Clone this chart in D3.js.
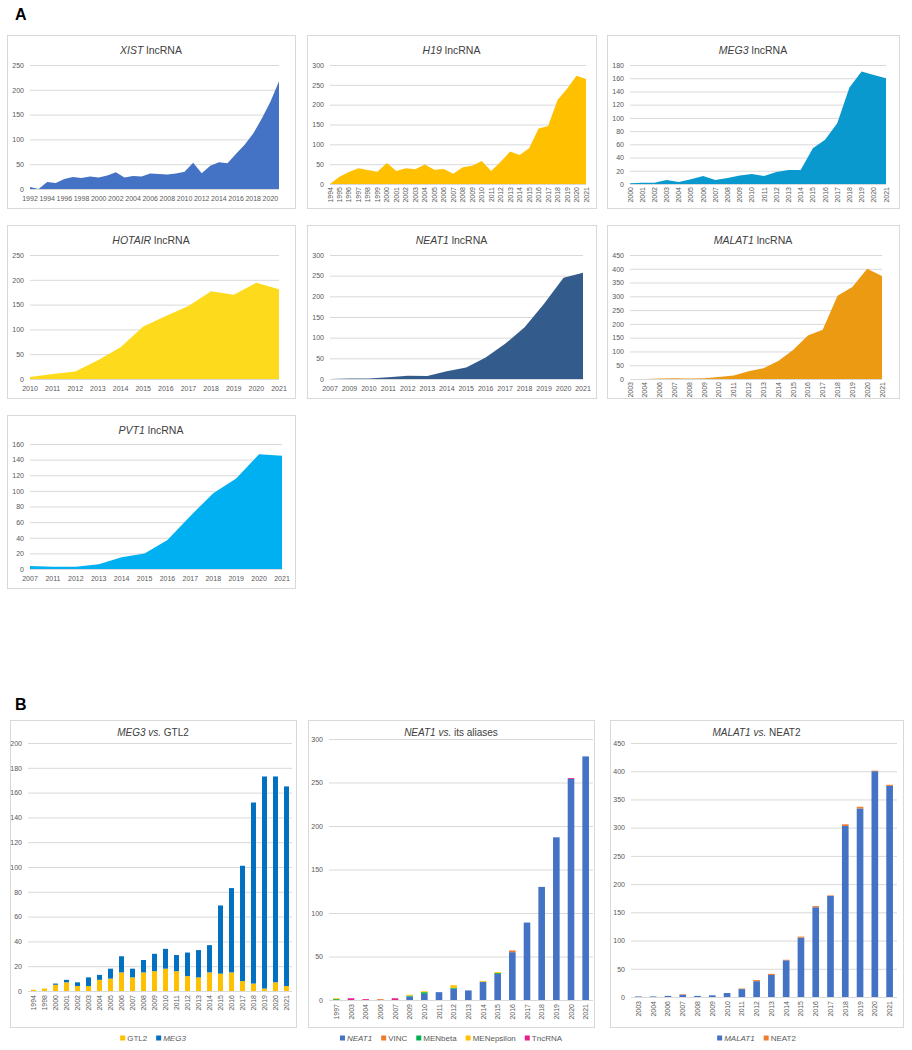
<!DOCTYPE html>
<html>
<head>
<meta charset="utf-8">
<script src="https://cdn.jsdelivr.net/npm/d3@7"></script>
<style>
  body { margin: 0; background: #fff; }
  svg { font-family: "Liberation Sans", Arial, sans-serif; }
  .tick text { fill: #595959; }
</style>
</head>
<body>
<svg id="chart" width="912" height="1050"></svg>
<script>
// ---- data: panel A (publications per year) ----
const xistYears = [1992,1993,1994,1995,1996,1997,1998,1999,2000,2001,2002,2003,2004,2005,2006,2007,2008,2009,2010,2011,2012,2013,2014,2015,2016,2017,2018,2019,2020,2021];
const xistValues = [4,0,14,12,20,24,22,25,23,27,34,23,26,25,31,30,29,31,35,53,32,47,54,52,71,89,112,142,176,217];
const xistTicks = [1992,1994,1996,1998,2000,2002,2004,2006,2008,2010,2012,2014,2016,2018,2020];

const h19Years = [1994,1995,1996,1997,1998,1999,2000,2001,2002,2003,2004,2005,2006,2007,2008,2009,2010,2011,2012,2013,2014,2015,2016,2017,2018,2019,2020,2021];
const h19Values = [0,18,30,40,35,31,53,33,40,37,49,36,38,26,42,46,58,33,56,82,73,90,140,146,212,240,273,265];

const meg3Years = [2000,2001,2002,2003,2004,2005,2006,2007,2008,2009,2010,2011,2012,2013,2014,2015,2016,2017,2018,2019,2020,2021];
const meg3Values = [1,2,2,6,3,7,12,6,9,13,15,12,18,21,21,54,67,92,146,170,165,160];

const hotairYears = [2010,2011,2012,2013,2014,2015,2016,2017,2018,2019,2020,2021];
const hotairValues = [4,10,15,38,64,106,127,147,177,170,194,181];

const neat1Years = [2007,2009,2010,2011,2012,2013,2014,2015,2016,2017,2018,2019,2020,2021];
const neat1Values = [0,1,1,4,8,7,19,28,52,85,125,182,245,257];

const malat1Years = [2003,2004,2006,2007,2008,2009,2010,2011,2012,2013,2014,2015,2016,2017,2018,2019,2020,2021];
const malat1Values = [0,0,2,3,2,3,7,13,28,39,65,105,158,179,302,334,400,374];

const pvt1Years = [2007,2011,2012,2013,2014,2015,2016,2017,2018,2019,2020,2021];
const pvt1Values = [4,3,3,6,15,20,37,68,97,116,147,145];

// ---- data: panel B (stacked) ----
const meg3bYears = ["1994","1998","2000","2001","2002","2003","2004","2005","2006","2007","2008","2009","2010","2011","2012","2013","2014","2015","2016","2017","2018","2019","2020","2021"];
const gtl2Counts = [1,2,5,7,4,4,9,10,15,11,15,16,18,16,12,11,15,14,15,8,6,2,7,4];
const meg3Counts = [0,0,1,2,3,7,4,8,13,7,10,14,16,13,19,22,22,55,68,93,146,171,166,161];

const neatbYears = ["1997","2003","2004","2006","2007","2009","2010","2011","2012","2013","2014","2015","2016","2017","2018","2019","2020","2021"];
const neatbNEAT1 = [0,0,0,0,0,4,7,9,13,11,21,30,55,89,130,187,254,280];
const neatbVINC = [0,0,0,1,0,0,0,0,0,0,0,0,2,0,0,0,0,0];
const neatbMENbeta = [1,0,0,0,0,1,2,0,1,0,0,1,0,0,0,0,0,0];
const neatbMENepsilon = [1,0,0,0,0,1,1,0,3,0,1,1,0,0,0,0,0,0];
const neatbTncRNA = [0,2,1,0,2,0,0,0,0,0,0,0,0,0,0,0,1,0];

const malatbYears = ["2003","2004","2006","2007","2008","2009","2010","2011","2012","2013","2014","2015","2016","2017","2018","2019","2020","2021"];
const malatbMALAT1 = [1,1,2,4,2,3,7,14,28,39,65,105,159,179,303,334,400,374];
const malatbNEAT2 = [0,0,0,1,0,0,0,1,2,2,1,2,2,1,3,3,1,2];

const svg = d3.select("#chart");
const gridColor = "#d9d9d9";

function box(x0, y0, x1, y1) {
    svg.append("rect")
        .attr("x", x0 + 0.5).attr("y", y0 + 0.5)
        .attr("width", x1 - x0).attr("height", y1 - y0)
        .attr("fill", "#fff")
        .attr("stroke", "#d9d9d9");
}

function title(cx, y, gene, rest, size) {
    const t = svg.append("text")
        .attr("x", cx).attr("y", y)
        .attr("text-anchor", "middle")
        .attr("font-size", size)
        .attr("fill", "#404040");
    t.append("tspan").attr("font-style", "italic").text(gene);
    t.append("tspan").text(rest);
}

function yAxis(y, left, right, max, step) {
    const g = svg.append("g")
        .attr("transform", `translate(${left},0)`)
        .call(d3.axisLeft(y).tickValues(d3.range(0, max + 1, step))
            .tickSize(-(right - left)).tickPadding(6));
    g.select(".domain").remove();
    g.selectAll(".tick line").attr("stroke", gridColor);
    g.selectAll(".tick text").attr("font-size", 7);
}

// category labels under the plot, upright or turned
function xLabels(pos, labels, bottom, rotate) {
    const g = svg.append("g").attr("font-size", 7).attr("fill", "#595959");
    if (rotate) {
        g.selectAll("text").data(labels).join("text")
            .attr("transform", d => `translate(${pos(d) + 2.5},${bottom + 3}) rotate(-90)`)
            .attr("text-anchor", "end")
            .text(d => d);
    } else {
        g.selectAll("text").data(labels).join("text")
            .attr("x", d => pos(d)).attr("y", bottom + 12)
            .attr("text-anchor", "middle")
            .text(d => d);
    }
}

function areaPanel(p) {
    box(...p.box);
    title((p.box[0] + p.box[2]) / 2, p.box[1] + 19, p.gene, " lncRNA", 10.5);
    const [left, right, top, bottom] = p.plot;
    const x = d3.scalePoint().domain(p.years).range([left, right]);
    const y = d3.scaleLinear().domain([0, p.max]).range([bottom, top]);
    yAxis(y, left, right, p.max, p.step);
    const area = d3.area()
        .x((d, i) => x(p.years[i]))
        .y0(bottom)
        .y1(d => y(d));
    svg.append("path").datum(p.values)
        .attr("d", area)
        .attr("fill", p.color);
    xLabels(x, p.ticks || p.years, bottom, p.rotate);
}

areaPanel({ box: [7, 35, 295, 208], gene: "XIST", plot: [30, 279, 65, 189], years: xistYears, values: xistValues, ticks: xistTicks, max: 250, step: 50, color: "#4472c4" });
areaPanel({ box: [307, 35, 596, 208], gene: "H19", plot: [330, 586, 65, 184], years: h19Years, values: h19Values, max: 300, step: 50, color: "#ffc000", rotate: true });
areaPanel({ box: [607, 35, 899, 208], gene: "MEG3", plot: [630, 886, 65, 184], years: meg3Years, values: meg3Values, max: 180, step: 20, color: "#0a99cf", rotate: true });
areaPanel({ box: [7, 225, 295, 398], gene: "HOTAIR", plot: [30, 279, 255, 379], years: hotairYears, values: hotairValues, max: 250, step: 50, color: "#fddb1c" });
areaPanel({ box: [307, 225, 596, 398], gene: "NEAT1", plot: [330, 583, 255, 379], years: neat1Years, values: neat1Values, max: 300, step: 50, color: "#335b8c" });
areaPanel({ box: [607, 225, 899, 398], gene: "MALAT1", plot: [630, 882, 255, 379], years: malat1Years, values: malat1Values, max: 450, step: 50, color: "#ec9a12", rotate: true });
areaPanel({ box: [7, 415, 295, 588], gene: "PVT1", plot: [30, 282, 444, 569], years: pvt1Years, values: pvt1Values, max: 160, step: 20, color: "#00b0f0" });

function barPanel(p) {
    box(...p.box);
    const [left, right, top, bottom] = p.plot;
    const cx = (p.box[0] + p.box[2]) / 2;
    const t = svg.append("text")
        .attr("x", cx).attr("y", p.box[1] + 16)
        .attr("text-anchor", "middle").attr("font-size", 10).attr("fill", "#404040");
    p.titleParts.forEach(s => t.append("tspan").attr("font-style", s[1] ? "italic" : "normal").text(s[0]));
    const x = d3.scaleBand().domain(p.years).range([left, right]).paddingInner(p.pad).paddingOuter(p.pad / 2);
    const y = d3.scaleLinear().domain([0, p.max]).range([bottom, top]);
    yAxis(y, left, right, p.max, p.step);
    const rows = p.years.map((yr, i) => {
        const r = { year: yr };
        p.series.forEach(s => { r[s.name] = s.values[i]; });
        return r;
    });
    const stack = d3.stack().keys(p.series.map(s => s.name))(rows);
    svg.append("g").selectAll("g").data(stack).join("g")
        .attr("fill", (d, i) => p.series[i].color)
        .selectAll("rect").data(d => d).join("rect")
        .attr("x", d => x(d.data.year))
        .attr("y", d => y(d[1]))
        .attr("width", x.bandwidth())
        .attr("height", d => y(d[0]) - y(d[1]));
    xLabels(d => x(d) + x.bandwidth() / 2, p.years, bottom + 1, true);

    // legend, laid out left to right then centred under the panel
    const lg = svg.append("g").attr("font-size", 8).attr("fill", "#595959");
    let cursor = 0;
    p.series.forEach(s => {
        const item = lg.append("g").attr("transform", `translate(${cursor},0)`);
        item.append("rect").attr("x", 0).attr("y", -5.5).attr("width", 5).attr("height", 5).attr("fill", s.color);
        const txt = item.append("text").attr("x", 7).attr("y", 0)
            .attr("font-style", s.italic ? "italic" : "normal").text(s.name);
        cursor += 7 + txt.node().getComputedTextLength() + 9;
    });
    cursor -= 9;
    lg.attr("transform", `translate(${cx - cursor / 2},${p.legendY})`);
}

barPanel({
    box: [10, 720, 296, 1027], titleParts: [["MEG3", true], [" vs.", true], [" GTL2", false]],
    plot: [28, 292, 743, 991], years: meg3bYears, max: 200, step: 20, pad: 0.55,
    series: [{ name: "GTL2", values: gtl2Counts, color: "#ffc000" }, { name: "MEG3", values: meg3Counts, color: "#0070c0", italic: true }],
    legendY: 1041
});
barPanel({
    box: [308, 720, 594, 1027], titleParts: [["NEAT1", true], [" vs.", true], [" its aliases", false]],
    plot: [329, 593, 739, 1000], years: neatbYears, max: 300, step: 50, pad: 0.55,
    series: [{ name: "NEAT1", values: neatbNEAT1, color: "#4472c4", italic: true },
             { name: "VINC", values: neatbVINC, color: "#ed7d31" },
             { name: "MENbeta", values: neatbMENbeta, color: "#00b050" },
             { name: "MENepsilon", values: neatbMENepsilon, color: "#ffc000" },
             { name: "TncRNA", values: neatbTncRNA, color: "#e6218a" }],
    legendY: 1041
});
barPanel({
    box: [610, 720, 903, 1027], titleParts: [["MALAT1", true], [" vs.", true], [" NEAT2", false]],
    plot: [631, 897, 743, 997], years: malatbYears, max: 450, step: 50, pad: 0.55,
    series: [{ name: "MALAT1", values: malatbMALAT1, color: "#4472c4", italic: true }, { name: "NEAT2", values: malatbNEAT2, color: "#ed7d31" }],
    legendY: 1041
});

// panel letters
svg.append("text").attr("x", 15).attr("y", 20).attr("font-size", 16).attr("font-weight", "bold").text("A");
svg.append("text").attr("x", 15).attr("y", 710).attr("font-size", 16).attr("font-weight", "bold").text("B");
</script>
</body>
</html>
